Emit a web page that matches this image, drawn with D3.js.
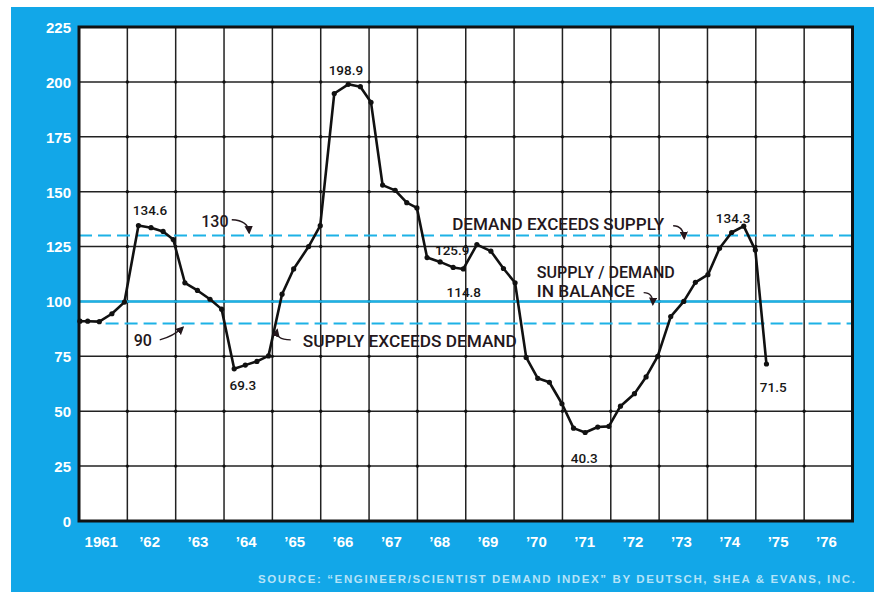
<!DOCTYPE html>
<html><head><meta charset="utf-8">
<script src="https://cdn.jsdelivr.net/npm/d3@7"></script>
<style>html,body{margin:0;padding:0;background:#fff;} svg{display:block}</style>
</head><body>
<svg id="c" width="874" height="595"></svg>
<script>
// ---------- data ----------
const yearLabels = ["1961","’62","’63","’64","’65","’66","’67","’68","’69","’70","’71","’72","’73","’74","’75","’76"];
const yTicks = [0,25,50,75,100,125,150,175,200,225];
const times = [1961.02,1961.18,1961.42,1961.68,1961.94,1962.23,1962.49,1962.74,1962.95,1963.19,1963.45,1963.71,1963.95,
  1964.21,1964.44,1964.68,1964.92,1965.20,1965.44,1965.75,1965.99,1966.28,1966.57,1966.82,1967.04,1967.28,1967.54,1967.78,
  1967.99,1968.20,1968.47,1968.74,1968.95,1969.23,1969.52,1969.78,1970.02,1970.25,1970.49,1970.73,1970.99,1971.23,1971.47,
  1971.73,1971.96,1972.20,1972.49,1972.73,1972.97,1973.24,1973.51,1973.75,1974.01,1974.25,1974.50,1974.75,1974.99,1975.22];
const demandIndex = [91,91,90.8,94.4,99.7,134.6,133.6,131.9,128.2,108.5,105,101,96.5,69.3,71,72.7,75.2,103.3,114.8,125,134.5,
  194.7,198.9,197.8,190.7,153,150.6,145,142.6,120,118,115.5,114.8,125.9,122.9,115,108.5,74.5,65,63.2,53.4,42.3,40.3,42.8,43.1,
  52.3,58,65.6,75,93.1,100,108.7,112.2,124.2,131.4,134.3,123.4,71.5];
const refValues = [100,130,90];
const refDashed = [false,true,true];
const refStart = [1961,1961,1961.55];
const valueLabels = ["134.6","198.9","125.9","114.8","69.3","40.3","134.3","71.5","130","90"];
const valueLabelT = [1962.47,1966.52,1968.72,1968.96,1964.39,1971.45,1974.53,1975.36,1963.81,1962.32];
const valueLabelV = [139.4,203.1,121.2,102.0,59.7,26.4,135.7,58.8,133.9,79.8];
const noteTexts = ["DEMAND EXCEEDS SUPPLY","SUPPLY / DEMAND","IN BALANCE","SUPPLY EXCEEDS DEMAND"];
const noteT = [1968.72,1970.47,1970.47,1965.63];
const noteV = [132.5,110.7,102.2,79.2];
const source = "SOURCE:  \u201CENGINEER/SCIENTIST DEMAND INDEX\u201D BY DEUTSCH, SHEA & EVANS, INC.";

// ---------- layout ----------
const svg = d3.select("#c");
const L = 79, R = 852.5, T = 27, B = 521;
const x = d3.scaleLinear().domain([1961,1977]).range([L,R]);
const y = d3.scaleLinear().domain([0,225]).range([B,T]);
const blue = "#12a7e8", cyan = "#1db2e6", ink = "#24171c";
const numFont = "'Liberation Sans', Arial, sans-serif";
const noteFont = "Roboto, 'Liberation Sans', sans-serif";

svg.append("rect").attr("x",11).attr("y",7).attr("width",863).attr("height",585).attr("fill",blue);
svg.append("rect").attr("x",L).attr("y",T).attr("width",R-L).attr("height",B-T).attr("fill","#fff");

const defs = svg.append("defs");
defs.append("marker").attr("id","ah").attr("viewBox","0 0 10 10").attr("refX",8).attr("refY",5)
  .attr("markerWidth",6).attr("markerHeight",6).attr("orient","auto")
  .append("path").attr("d","M0,0L10,5L0,10z").attr("fill",ink);

// grid
const years = d3.range(1962,1977);
const g = svg.append("g");
g.selectAll("line.v").data(years).join("line").attr("class","v")
  .attr("x1",d=>x(d)).attr("x2",d=>x(d)).attr("y1",T).attr("y2",B)
  .attr("stroke","#222").attr("stroke-width",1.5);
g.selectAll("line.h").data(yTicks.slice(1,-1)).join("line").attr("class","h")
  .attr("x1",L).attr("x2",R).attr("y1",d=>y(d)).attr("y2",d=>y(d))
  .attr("stroke","#222").attr("stroke-width",1.5);
const inter = [];
years.forEach(a=>yTicks.slice(1,-1).forEach(b=>inter.push([a,b])));
g.selectAll("circle.i").data(inter).join("circle").attr("class","i")
  .attr("cx",d=>x(d[0])).attr("cy",d=>y(d[1])).attr("r",1.7).attr("fill","#111");

// reference lines
refValues.forEach((v,i)=>{
  svg.append("line").attr("x1",x(refStart[i])).attr("x2",R).attr("y1",y(v)).attr("y2",y(v))
    .attr("stroke",cyan).attr("stroke-width",refDashed[i]?2:2.6)
    .attr("stroke-dasharray",refDashed[i]?"13,6":null);
});

// plot border
svg.append("rect").attr("x",L).attr("y",T).attr("width",R-L).attr("height",B-T)
  .attr("fill","none").attr("stroke","#111").attr("stroke-width",3);

// axes
const yAxis = svg.append("g").attr("transform",`translate(${L},0)`)
  .call(d3.axisLeft(y).tickValues(yTicks).tickSize(0).tickPadding(8));
yAxis.select(".domain").remove();
yAxis.selectAll("text").attr("fill","#fff").attr("font-family",numFont).attr("font-weight","bold")
  .attr("font-size",15).attr("dy","0.36em");

const xAxis = svg.append("g").attr("transform",`translate(0,${B})`)
  .call(d3.axisBottom(x).tickValues(yearLabels.map((d,i)=>1961+i+0.45)).tickFormat((d,i)=>yearLabels[i]).tickSize(0).tickPadding(15));
xAxis.select(".domain").remove();
xAxis.selectAll("text").attr("fill","#fff").attr("font-family",numFont).attr("font-weight","bold")
  .attr("font-size",15);

// data line
const pts = times.map((t,i)=>[t,demandIndex[i]]);
svg.append("path").datum(pts)
  .attr("d",d3.line().x(d=>x(d[0])).y(d=>y(d[1])))
  .attr("fill","none").attr("stroke","#111").attr("stroke-width",2.6).attr("stroke-linejoin","round");
svg.selectAll("circle.p").data(pts).join("circle").attr("class","p")
  .attr("cx",d=>x(d[0])).attr("cy",d=>y(d[1])).attr("r",2.6).attr("fill","#111");

// value labels
valueLabels.forEach((txt,i)=>{
  const big = (txt==="130"||txt==="90");
  svg.append("text").attr("x",x(valueLabelT[i])).attr("y",y(valueLabelV[i]))
    .attr("text-anchor","middle").attr("font-family",noteFont).attr("font-weight",500)
    .attr("font-size",big?16:13.5).attr("fill",big?ink:"#161616").text(txt);
});

// notes
const noteW = [212,138,98,214];
noteTexts.forEach((txt,i)=>{
  svg.append("text").attr("x",x(noteT[i])).attr("y",y(noteV[i]))
    .attr("font-family",noteFont).attr("font-weight",500).attr("font-size",16.5).attr("fill",ink)
    .attr("textLength",noteW[i]).attr("lengthAdjust","spacingAndGlyphs").text(txt);
});

// annotation arrows (in data coordinates)
const arrows = [
  [[1964.16,137.2],[1964.50,137.0],[1964.52,131.3]],
  [[1962.67,82.5],[1962.95,84],[1963.15,88.2]],
  [[1965.38,82.5],[1965.05,82.6],[1965.10,87.0]],
  [[1973.29,134.5],[1973.50,134.5],[1973.52,128.7]],
  [[1972.68,104.0],[1972.88,104.0],[1972.87,98.7]]
];
const qline = d=>`M${x(d[0][0])},${y(d[0][1])}Q${x(d[1][0])},${y(d[1][1])} ${x(d[2][0])},${y(d[2][1])}`;
svg.selectAll("path.ar").data(arrows).join("path").attr("class","ar")
  .attr("d",qline).attr("fill","none").attr("stroke",ink).attr("stroke-width",1.4)
  .attr("marker-end","url(#ah)");

// source
svg.append("text").attr("x",258).attr("y",583).attr("font-family",numFont).attr("font-weight","bold")
  .attr("font-size",11.5).attr("fill","#b5e3f8").attr("textLength",597).attr("lengthAdjust","spacing")
  .text(source);
</script>
</body></html>
